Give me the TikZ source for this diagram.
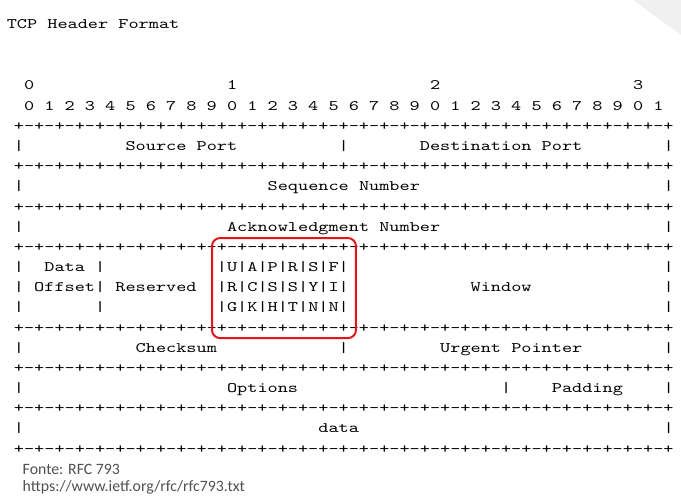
\documentclass[tikz,border=0pt]{standalone}
\usepackage{fontspec}
\newfontfamily\asciifont[FakeStretch=1.3333]{lmmono10-regular.otf}
\newfontfamily\notefont{Carlito}
\definecolor{notegray}{HTML}{505050}
\definecolor{flagred}{HTML}{E3151B}
\definecolor{cornergray}{HTML}{F0F0F0}
\newcommand{\plusline}{%
+-+-+-+-+-+-+-+-%
+-+-+-+-+-+-+-+-%
+-+-+-+-+-+-+-+-%
+-+-+-+-+-+-+-+-%
+}
\begin{document}
\begin{tikzpicture}[x=10.15pt, y=-20.17pt,
	ascii/.style={anchor=base west, inner sep=0pt, outer sep=0pt, font=\fontsize{14.5pt}{17pt}\asciifont},
	note/.style={anchor=base west, inner sep=0pt, outer sep=0pt, text=notegray, font=\fontsize{15.8pt}{18pt}\notefont},
	flagbox/.style={draw=flagred, line width=2pt, rounded corners=8pt}]
	\useasboundingbox (-1.3695,-4.462) rectangle (65.724,20.278);
	\fill[cornergray] (61.0,-4.462) -- (65.724,-4.462) -- (65.724,-2.727) -- cycle;
	
	\coordinate (F1) at (19.52, 7.34);
	\coordinate (F2) at (33.70, 12.30);
	
	\node[ascii] (title) at (-0.7,-3.05) {TCP Header Format};
	
	\node[ascii] (D0) at (1,0) {0};
	\node[ascii] (D1) at (21,0) {1};
	\node[ascii] (D2) at (41,0) {2};
	\node[ascii] (D3) at (61,0) {3};
	\node[ascii] (bits) at (1,1) {0 1 2 3 4 5 6 7 8 9 0 1 2 3 4 5 6 7 8 9 0 1 2 3 4 5 6 7 8 9 0 1};
	
	\node[ascii] (P2) at (0,2) {\plusline};
	\node[ascii] (L3) at (0,3) {|};
	\node[ascii] (srcport) at (11,3) {Source Port};
	\node[ascii] (M3) at (32,3) {|};
	\node[ascii] (dstport) at (40,3) {Destination Port};
	\node[ascii] (R3) at (64,3) {|};
	
	\node[ascii] (P4) at (0,4) {\plusline};
	\node[ascii] (L5) at (0,5) {|};
	\node[ascii] (seq) at (25,5) {Sequence Number};
	\node[ascii] (R5) at (64,5) {|};
	
	\node[ascii] (P6) at (0,6) {\plusline};
	\node[ascii] (L7) at (0,7) {|};
	\node[ascii] (ack) at (21,7) {Acknowledgment Number};
	\node[ascii] (R7) at (64,7) {|};
	
	\node[ascii] (P8) at (0,8) {\plusline};
	\node[ascii] (L9) at (0,9) {|};
	\node[ascii] (data) at (3,9) {Data |};
	\node[ascii] (flags1) at (20,9) {|U|A|P|R|S|F|};
	\node[ascii] (R9) at (64,9) {|};
	\node[ascii] (offset) at (0,10) {| Offset| Reserved};
	\node[ascii] (flags2) at (20,10) {|R|C|S|S|Y|I|};
	\node[ascii] (window) at (45,10) {Window};
	\node[ascii] (R10) at (64,10) {|};
	\node[ascii] (L11) at (0,11) {|};
	\node[ascii] (M11) at (8,11) {|};
	\node[ascii] (flags3) at (20,11) {|G|K|H|T|N|N|};
	\node[ascii] (R11) at (64,11) {|};
	
	\node[ascii] (P12) at (0,12) {\plusline};
	\node[ascii] (L13) at (0,13) {|};
	\node[ascii] (checksum) at (12,13) {Checksum};
	\node[ascii] (M13) at (32,13) {|};
	\node[ascii] (urgent) at (42,13) {Urgent Pointer};
	\node[ascii] (R13) at (64,13) {|};
	
	\node[ascii] (P14) at (0,14) {\plusline};
	\node[ascii] (L15) at (0,15) {|};
	\node[ascii] (options) at (21,15) {Options};
	\node[ascii] (M15) at (48,15) {|};
	\node[ascii] (padding) at (53,15) {Padding};
	\node[ascii] (R15) at (64,15) {|};
	
	\node[ascii] (P16) at (0,16) {\plusline};
	\node[ascii] (L17) at (0,17) {|};
	\node[ascii] (payload) at (30,17) {data};
	\node[ascii] (R17) at (64,17) {|};
	\node[ascii] (P18) at (0,18) {\plusline};
	
	\draw[flagbox] (F1) rectangle (F2);
	
	\node[note] (source) at (0.87,19.04) {Fonte: RFC 793};
	\node[note] (url) at (0.87,19.92) {https://www.ietf.org/rfc/rfc793.txt};
\end{tikzpicture}
\end{document}
